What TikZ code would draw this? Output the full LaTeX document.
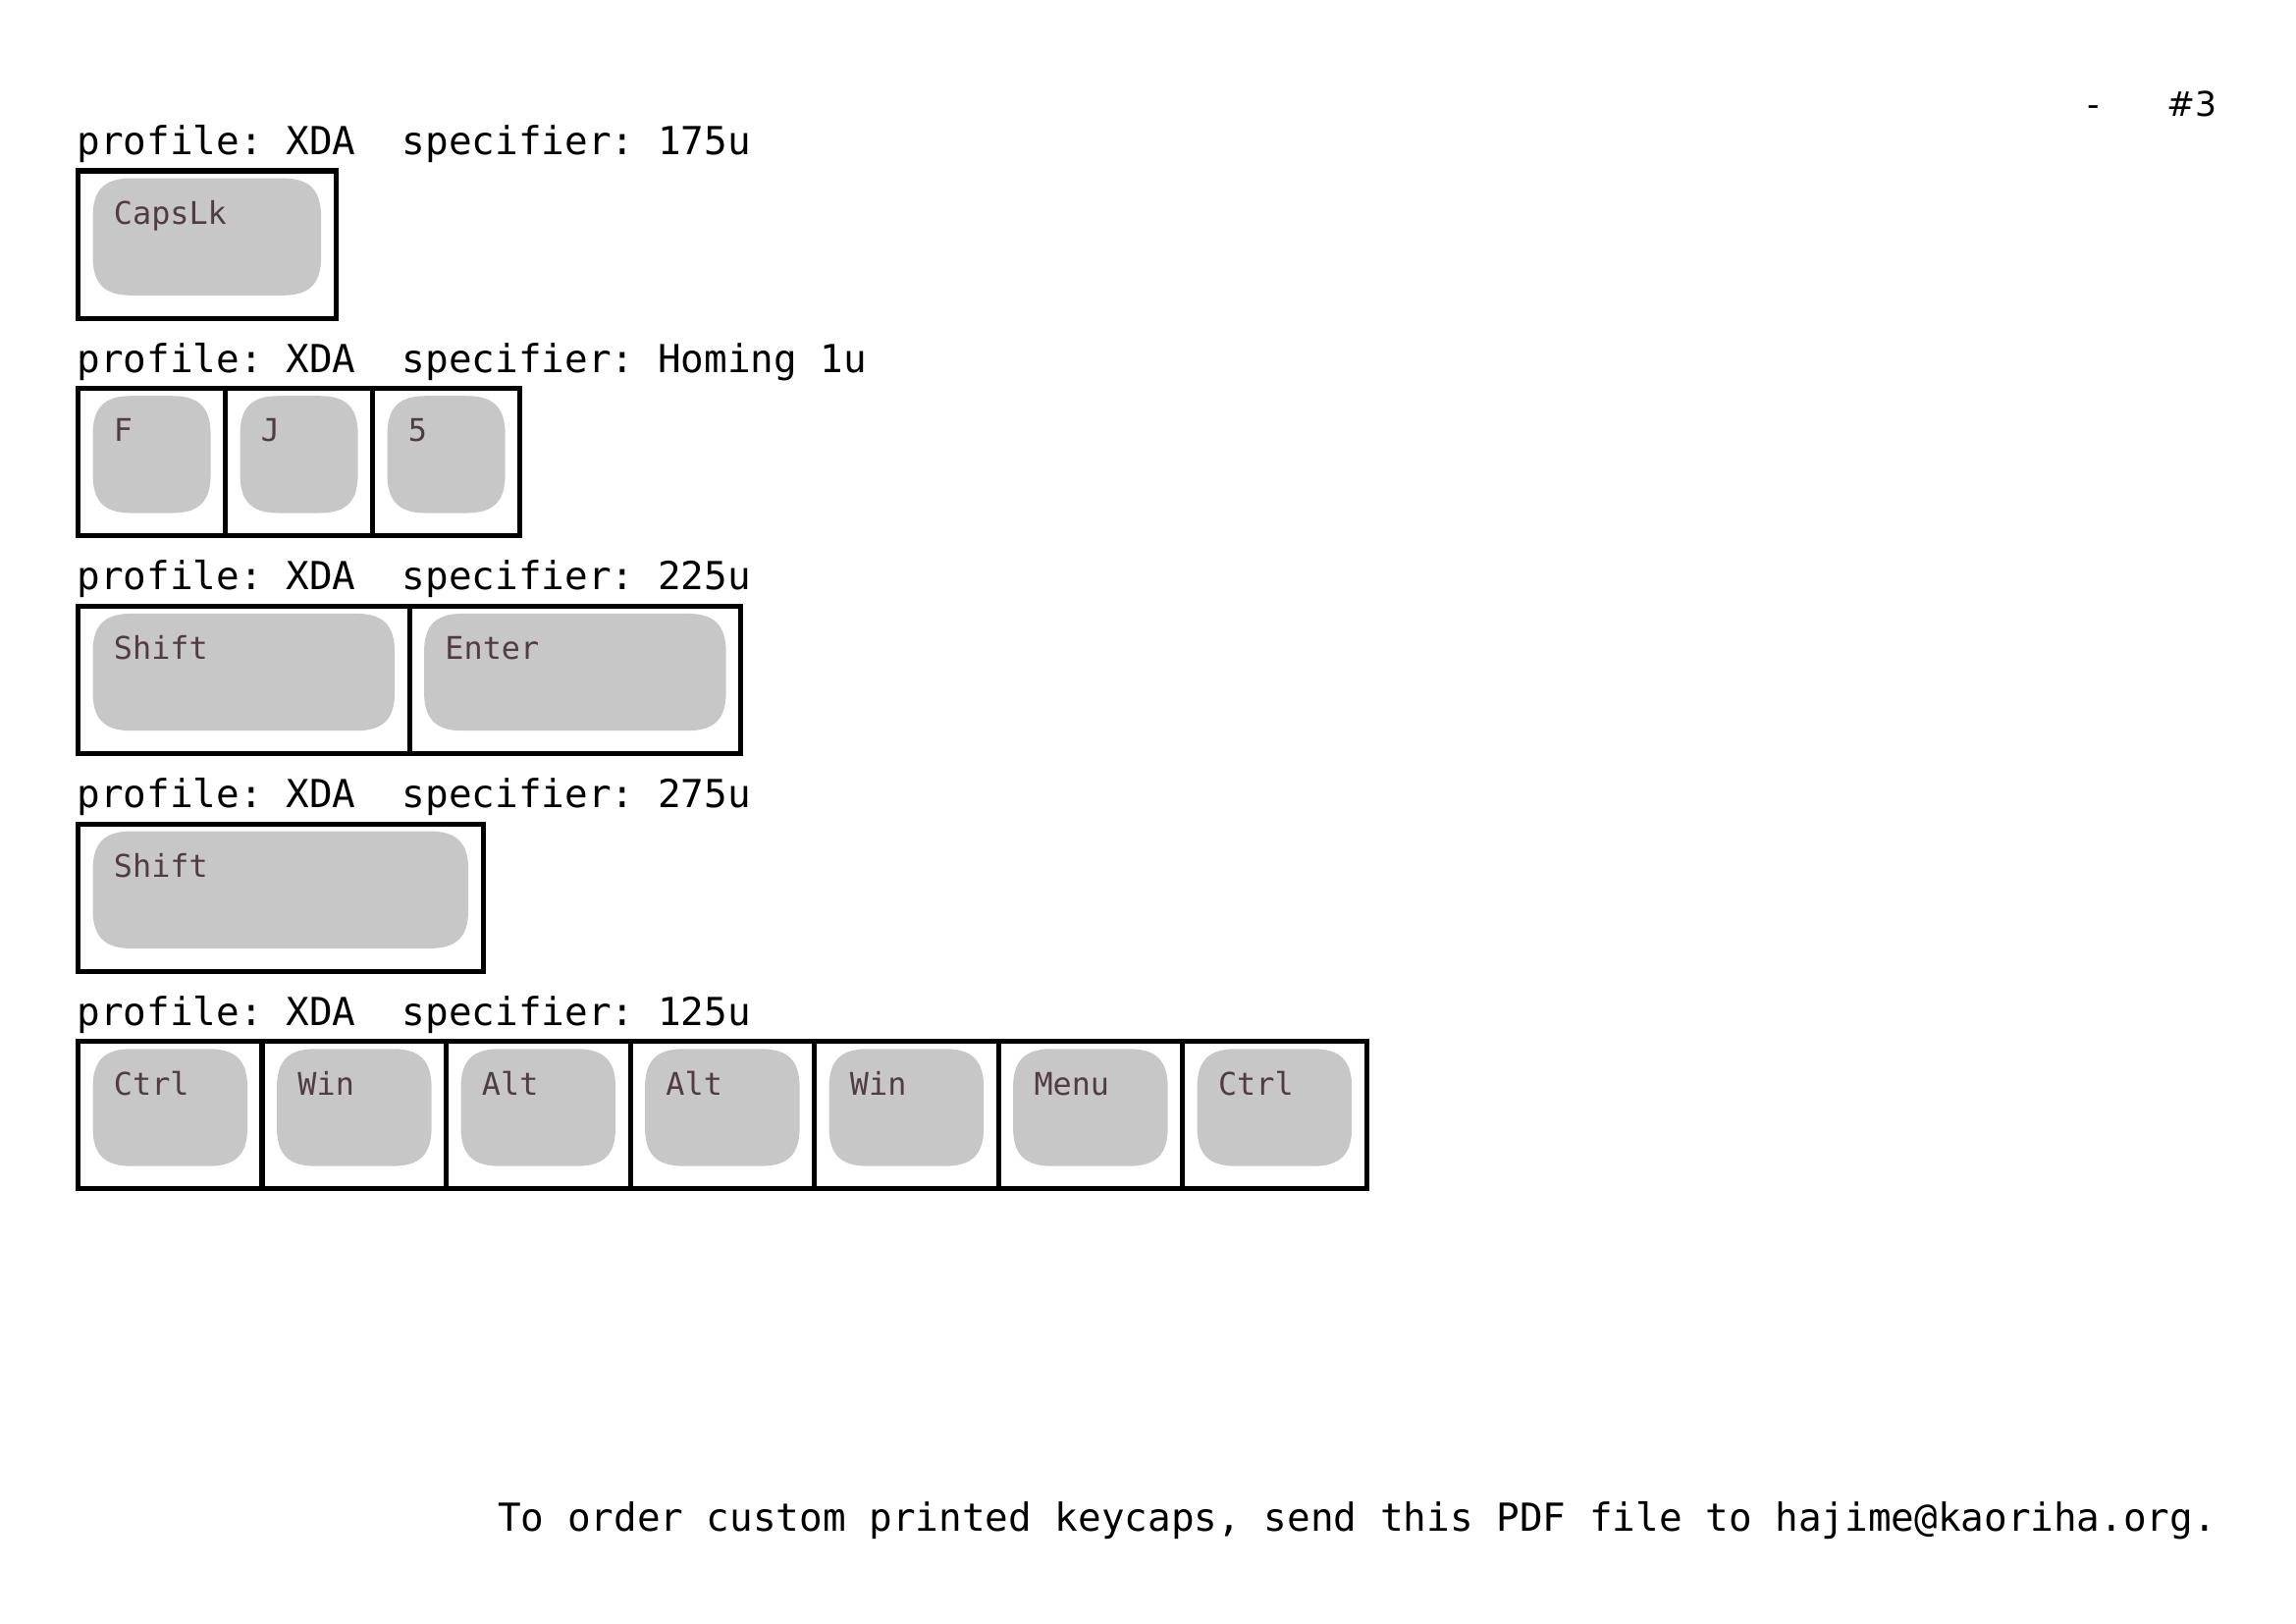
\documentclass[tikz,border=0pt]{standalone}
\usepackage{fontspec}
\newfontfamily\hdrfont{DejaVu Sans Mono}
\newfontfamily\pagefont{DejaVu Sans}
\definecolor{capgray}{RGB}{199,199,199}
\definecolor{legendcol}{RGB}{82,60,68}
\tikzset{
  keycell/.style={draw, line width=0.65mm, inner sep=0, outer sep=0, minimum height=19.05mm, anchor=north west},
  keytop/.style={inner sep=0, outer sep=0, minimum height=15.15mm, anchor=north,
    append after command={\pgfextra{
      \fill[capgray] ([yshift=-5mm]\tikzlastnode.north west)
        .. controls ([yshift=-1.5mm]\tikzlastnode.north west) and ([xshift=1.5mm]\tikzlastnode.north west) .. ([xshift=5mm]\tikzlastnode.north west)
        -- ([xshift=-5mm]\tikzlastnode.north east)
        .. controls ([xshift=-1.5mm]\tikzlastnode.north east) and ([yshift=-1.5mm]\tikzlastnode.north east) .. ([yshift=-5mm]\tikzlastnode.north east)
        -- ([yshift=5mm]\tikzlastnode.south east)
        .. controls ([yshift=1.5mm]\tikzlastnode.south east) and ([xshift=-1.5mm]\tikzlastnode.south east) .. ([xshift=-5mm]\tikzlastnode.south east)
        -- ([xshift=5mm]\tikzlastnode.south west)
        .. controls ([xshift=1.5mm]\tikzlastnode.south west) and ([yshift=1.5mm]\tikzlastnode.south west) .. ([yshift=5mm]\tikzlastnode.south west)
        -- cycle;}}},
  keylegend/.style={font=\hdrfont\fontsize{11.5pt}{13pt}\selectfont, text=legendcol, inner sep=0, anchor=base west},
  rowhead/.style={font=\hdrfont\fontsize{14.2pt}{16pt}\selectfont, inner sep=0, anchor=base west},
}
\frenchspacing
\begin{document}
\begin{tikzpicture}[x=1mm,y=1mm]
    \useasboundingbox (0,0) rectangle (297,-210);
    % page marks
    \node[inner sep=0, anchor=base west, font=\pagefont\fontsize{12.5pt}{14pt}\selectfont] (dash) at (270,-15) {-};
    \node[inner sep=0, anchor=base east, font=\pagefont\fontsize{12.5pt}{14pt}\selectfont] (pageno) at (286.8,-15) {\#3};
    % 175u
    \node[rowhead] (h1) at (9.9,-20) {profile: XDA\ \ specifier: 175u};
    \node[keycell, minimum width=33.34mm] (c1) at (10.1,-22.1) {};
    \node[keytop, minimum width=29.54mm] (k1) at ([yshift=-0.95mm]c1.north) {};
    \node[keylegend] (l1) at ([xshift=2.65mm,yshift=-5.93mm]k1.north west) {CapsLk};
    % homing 1u
    \node[rowhead] (h2) at (9.9,-48.15) {profile: XDA\ \ specifier: Homing 1u};
    \node[keycell, minimum width=19.05mm] (c2a) at (10.1,-50.25) {};
    \node[keycell, minimum width=19.05mm] (c2b) at (c2a.north east) {};
    \node[keycell, minimum width=19.05mm] (c2c) at (c2b.north east) {};
    \node[keytop, minimum width=15.25mm] (k2a) at ([yshift=-0.95mm]c2a.north) {};
    \node[keytop, minimum width=15.25mm] (k2b) at ([yshift=-0.95mm]c2b.north) {};
    \node[keytop, minimum width=15.25mm] (k2c) at ([yshift=-0.95mm]c2c.north) {};
    \node[keylegend] (l2a) at ([xshift=2.65mm,yshift=-5.93mm]k2a.north west) {F};
    \node[keylegend] (l2b) at ([xshift=2.65mm,yshift=-5.93mm]k2b.north west) {J};
    \node[keylegend] (l2c) at ([xshift=2.65mm,yshift=-5.93mm]k2c.north west) {5};
    % 225u
    \node[rowhead] (h3) at (9.9,-76.3) {profile: XDA\ \ specifier: 225u};
    \node[keycell, minimum width=42.86mm] (c3a) at (10.1,-78.4) {};
    \node[keycell, minimum width=42.86mm] (c3b) at (c3a.north east) {};
    \node[keytop, minimum width=39.06mm] (k3a) at ([yshift=-0.95mm]c3a.north) {};
    \node[keytop, minimum width=39.06mm] (k3b) at ([yshift=-0.95mm]c3b.north) {};
    \node[keylegend] (l3a) at ([xshift=2.65mm,yshift=-5.93mm]k3a.north west) {Shift};
    \node[keylegend] (l3b) at ([xshift=2.65mm,yshift=-5.93mm]k3b.north west) {Enter};
    % 275u
    \node[rowhead] (h4) at (9.9,-104.45) {profile: XDA\ \ specifier: 275u};
    \node[keycell, minimum width=52.39mm] (c4) at (10.1,-106.55) {};
    \node[keytop, minimum width=48.59mm] (k4) at ([yshift=-0.95mm]c4.north) {};
    \node[keylegend] (l4) at ([xshift=2.65mm,yshift=-5.93mm]k4.north west) {Shift};
    % 125u
    \node[rowhead] (h5) at (9.9,-132.6) {profile: XDA\ \ specifier: 125u};
    \node[keycell, minimum width=23.81mm] (c5a) at (10.1,-134.7) {};
    \node[keycell, minimum width=23.81mm] (c5b) at (c5a.north east) {};
    \node[keycell, minimum width=23.81mm] (c5c) at (c5b.north east) {};
    \node[keycell, minimum width=23.81mm] (c5d) at (c5c.north east) {};
    \node[keycell, minimum width=23.81mm] (c5e) at (c5d.north east) {};
    \node[keycell, minimum width=23.81mm] (c5f) at (c5e.north east) {};
    \node[keycell, minimum width=23.81mm] (c5g) at (c5f.north east) {};
    \node[keytop, minimum width=20.01mm] (k5a) at ([yshift=-0.95mm]c5a.north) {};
    \node[keytop, minimum width=20.01mm] (k5b) at ([yshift=-0.95mm]c5b.north) {};
    \node[keytop, minimum width=20.01mm] (k5c) at ([yshift=-0.95mm]c5c.north) {};
    \node[keytop, minimum width=20.01mm] (k5d) at ([yshift=-0.95mm]c5d.north) {};
    \node[keytop, minimum width=20.01mm] (k5e) at ([yshift=-0.95mm]c5e.north) {};
    \node[keytop, minimum width=20.01mm] (k5f) at ([yshift=-0.95mm]c5f.north) {};
    \node[keytop, minimum width=20.01mm] (k5g) at ([yshift=-0.95mm]c5g.north) {};
    \node[keylegend] (l5a) at ([xshift=2.65mm,yshift=-5.93mm]k5a.north west) {Ctrl};
    \node[keylegend] (l5b) at ([xshift=2.65mm,yshift=-5.93mm]k5b.north west) {Win};
    \node[keylegend] (l5c) at ([xshift=2.65mm,yshift=-5.93mm]k5c.north west) {Alt};
    \node[keylegend] (l5d) at ([xshift=2.65mm,yshift=-5.93mm]k5d.north west) {Alt};
    \node[keylegend] (l5e) at ([xshift=2.65mm,yshift=-5.93mm]k5e.north west) {Win};
    \node[keylegend] (l5f) at ([xshift=2.65mm,yshift=-5.93mm]k5f.north west) {Menu};
    \node[keylegend] (l5g) at ([xshift=2.65mm,yshift=-5.93mm]k5g.north west) {Ctrl};
    % footer
    \node[rowhead, anchor=base east] (note) at (286.8,-198) {To order custom printed keycaps, send this PDF file to hajime@kaoriha.org.};
\end{tikzpicture}
\end{document}
